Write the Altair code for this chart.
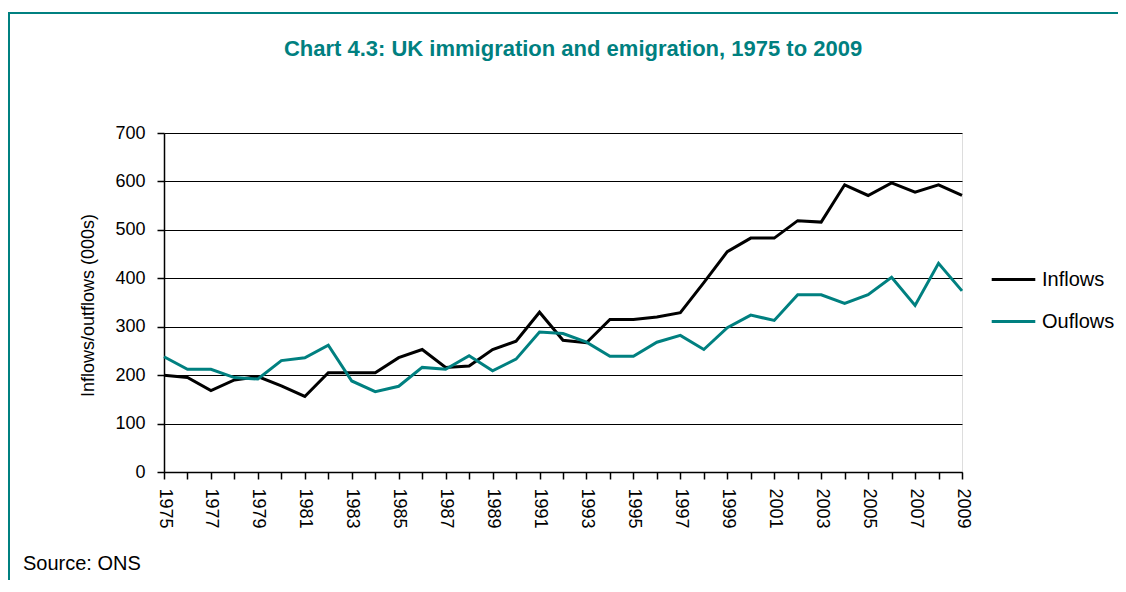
import altair as alt
import pandas as pd

FONT = "Liberation Sans"
TEAL = "#008080"

years = list(range(1975, 2010))
inflows = [200, 195, 168, 190, 197, 178, 156, 205, 205, 205,
           236, 253, 216, 219, 253, 270, 330, 272, 267, 315,
           315, 320, 329, 391, 455, 483, 483, 519, 516, 593,
           571, 597, 578, 593, 571]
outflows = [238, 212, 212, 195, 192, 230, 236, 262, 188, 166,
            177, 216, 212, 240, 209, 233, 289, 286, 268, 239,
            239, 268, 282, 253, 298, 324, 313, 366, 366, 348,
            366, 402, 344, 431, 374]
series_names = ["Inflows", "Ouflows"]
y_ticks = [0, 100, 200, 300, 400, 500, 600, 700]
title_text = "Chart 4.3: UK immigration and emigration, 1975 to 2009"
source_text = "Source: ONS"

df = pd.concat([
    pd.DataFrame({"year": years, "value": inflows, "series": series_names[0]}),
    pd.DataFrame({"year": years, "value": outflows, "series": series_names[1]}),
])

lines = alt.Chart(df).mark_line(strokeWidth=3).encode(
    x=alt.X("year:Q",
            scale=alt.Scale(domain=[1975, 2009], nice=False, zero=False),
            axis=alt.Axis(values=years,
                          labelExpr="datum.value % 2 == 1 ? datum.value : ''",
                          labelAngle=90, labelFontSize=18, labelFont=FONT,
                          labelColor="black", labelPadding=9, labelOverlap=False,
                          tickSize=7, tickColor="black", tickWidth=1.5,
                          domainColor="black", domainWidth=1.5,
                          grid=False, title=None)),
    y=alt.Y("value:Q",
            scale=alt.Scale(domain=[0, 700], nice=False),
            axis=alt.Axis(values=y_ticks, grid=True, gridColor="black", gridWidth=1.2,
                          tickSize=7, tickColor="black", tickWidth=1.5,
                          domainColor="black", domainWidth=1.5,
                          labelFontSize=18, labelFont=FONT, labelColor="black",
                          labelPadding=12,
                          title="Inflows/outflows (000s)", titleFontSize=18,
                          titleFont=FONT, titleFontWeight="normal", titleColor="black",
                          titleX=-76, titleY=172, titleBaseline="middle",
                          titleAlign="center", titleAngle=270)),
    color=alt.Color("series:N",
                    scale=alt.Scale(domain=series_names, range=["#000000", TEAL]),
                    legend=alt.Legend(title=None, orient="none", legendX=826, legendY=123,
                                      symbolType="stroke", symbolSize=1900,
                                      symbolStrokeWidth=3, labelFontSize=20,
                                      labelFont=FONT, labelColor="black",
                                      labelOffset=5, rowPadding=8, padding=0,
                                      labelLimit=300)),
)

one = pd.DataFrame({"a": [0]})
frame_top = alt.Chart(one).mark_rule(color=TEAL, strokeWidth=2).encode(
    x=alt.value(-160), x2=alt.value(970), y=alt.value(-120))
frame_left = alt.Chart(one).mark_rule(color=TEAL, strokeWidth=2).encode(
    x=alt.value(-155), y=alt.value(-121), y2=alt.value(460))
title = alt.Chart(one).mark_text(text=title_text, align="center", baseline="alphabetic",
                                 fontSize=22, font=FONT, fontWeight="bold",
                                 color=TEAL).encode(
    x=alt.value(409), y=alt.value(-77))
source = alt.Chart(one).mark_text(text=source_text, align="left", baseline="alphabetic",
                                  fontSize=20, font=FONT, color="black").encode(
    x=alt.value(-141), y=alt.value(437))

chart = alt.layer(frame_top, frame_left, title, lines, source).properties(
    width=798, height=339,
    autosize=alt.AutoSizeParams(type="none"),
    padding={"left": 156, "top": 125, "right": 156, "bottom": 108},
).configure_view(stroke=None).configure(background="white")

chart.save("out.html", embed_options={"renderer": "svg", "actions": False})
